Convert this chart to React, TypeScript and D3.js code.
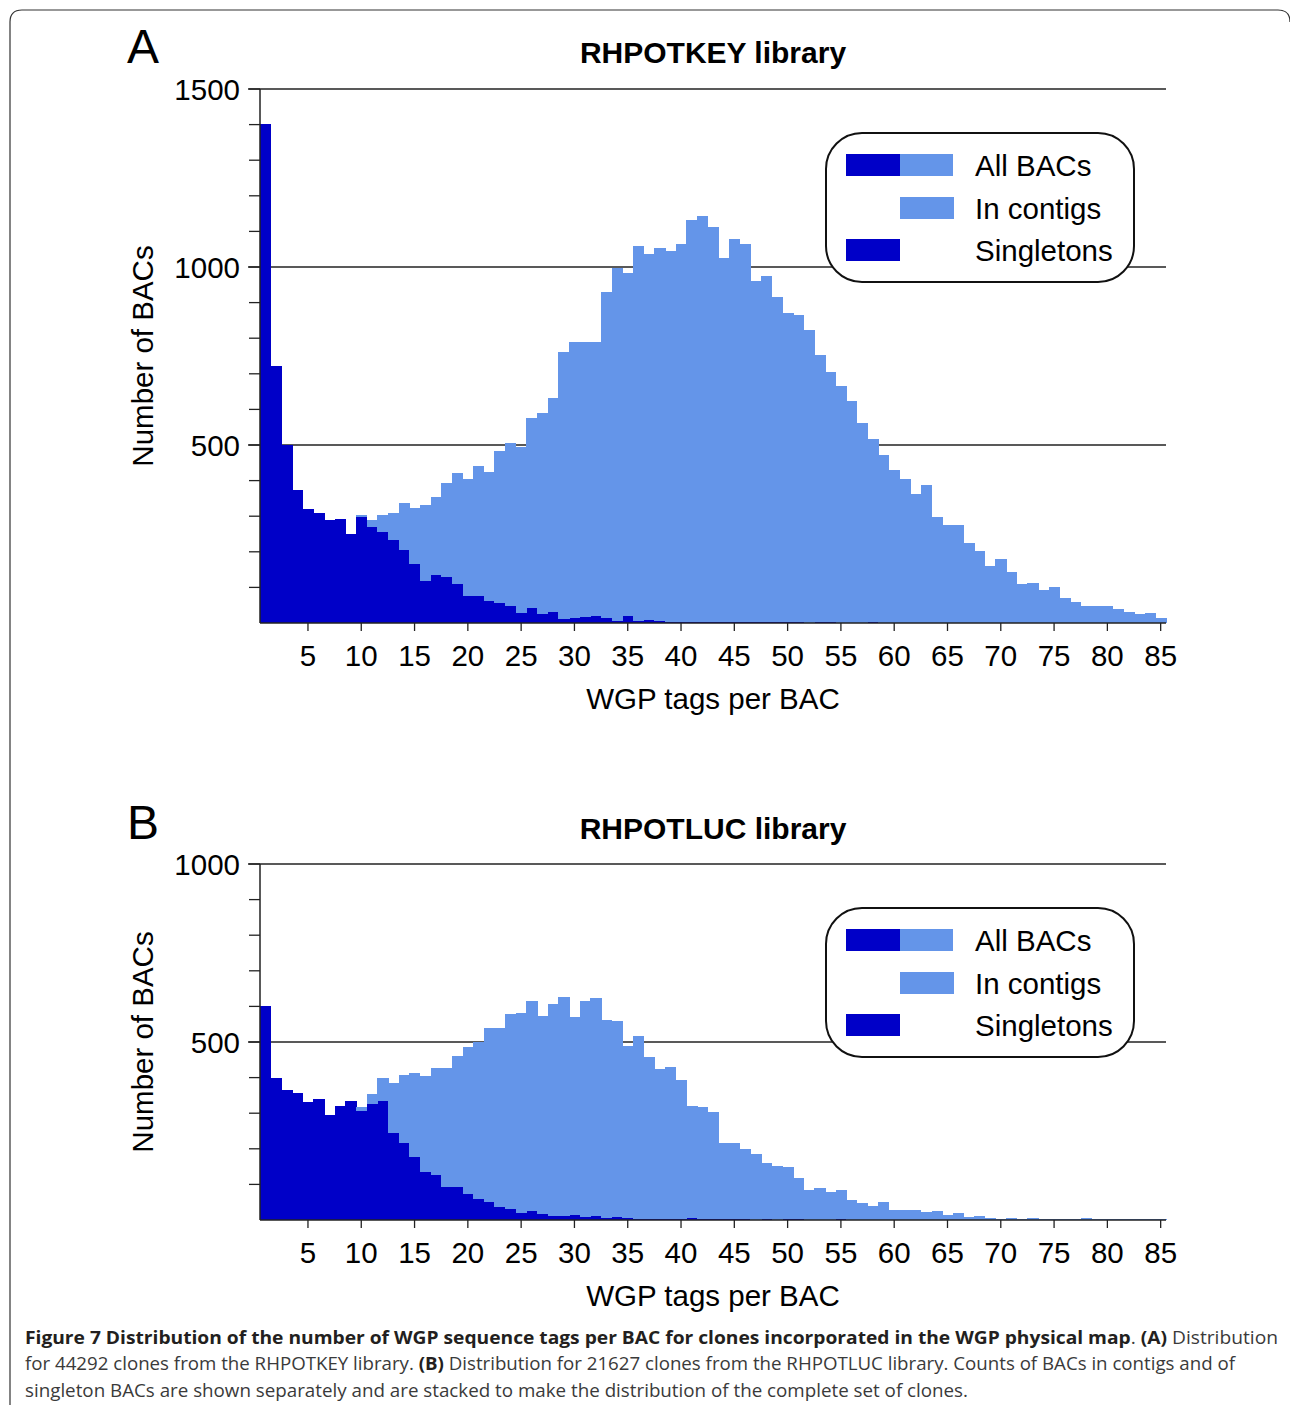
import React from "react";
import * as d3 from "d3";

const bins: number[] = d3.range(1, 86);
const xTickValues: number[] = [5, 10, 15, 20, 25, 30, 35, 40, 45, 50, 55, 60, 65, 70, 75, 80, 85];

// Panel A: RHPOTKEY library
const keySingletons: number[] = [
  1403, 723, 500, 373, 320, 308, 289, 291, 251, 298,
  271, 256, 234, 206, 167, 119, 136, 130, 110, 77,
  77, 63, 57, 48, 29, 43, 26, 31, 12, 15,
  18, 20, 15, 6, 20, 6, 9, 6, 4, 4,
  4, 4, 2, 2, 4, 2, 4, 4, 2, 2,
  4, 0, 2, 2, 0, 0, 0, 2, 0, 0,
  0, 0, 0, 0, 0, 0, 0, 0, 0, 0,
  0, 0, 0, 0, 0, 0, 0, 0, 0, 0,
  0, 0, 0, 0, 0,
];
const keyInContigs: number[] = [
  0, 0, 0, 0, 0, 0, 0, 0, 0, 4,
  18, 46, 76, 132, 157, 213, 219, 264, 310, 328,
  365, 362, 427, 459, 464, 533, 563, 602, 750, 773,
  770, 768, 914, 990, 963, 1052, 1027, 1048, 1042, 1062,
  1127, 1138, 1109, 1023, 1074, 1064, 956, 972, 915, 868,
  860, 824, 752, 704, 665, 625, 563, 514, 473, 431,
  405, 361, 389, 299, 276, 276, 226, 203, 161, 180,
  144, 110, 113, 94, 102, 71, 59, 48, 48, 48,
  40, 32, 24, 29, 15,
];
const keyYTicks: number[] = [500, 1000, 1500];

// Panel B: RHPOTLUC library
const lucSingletons: number[] = [
  601, 398, 365, 356, 331, 339, 294, 320, 334, 306,
  325, 334, 244, 216, 176, 134, 126, 92, 92, 72,
  59, 50, 36, 31, 20, 25, 17, 11, 11, 14,
  8, 11, 6, 8, 6, 3, 3, 3, 3, 3,
  6, 3, 3, 3, 3, 3, 1, 3, 1, 3,
  3, 1, 1, 1, 3, 1, 0, 0, 0, 0,
  0, 0, 0, 0, 0, 0, 0, 0, 0, 0,
  0, 0, 0, 0, 0, 0, 0, 0, 0, 0,
  0, 0, 0, 0, 0,
];
const lucInContigs: number[] = [
  0, 0, 0, 0, 0, 0, 0, 0, 0, 11,
  28, 64, 140, 191, 236, 270, 300, 334, 368, 413,
  441, 489, 503, 547, 561, 590, 556, 595, 615, 556,
  607, 612, 555, 551, 482, 513, 454, 421, 426, 390,
  314, 314, 300, 213, 213, 196, 184, 156, 150, 145,
  114, 83, 88, 77, 81, 54, 47, 39, 50, 28,
  28, 28, 22, 25, 14, 20, 8, 11, 6, 3,
  6, 3, 6, 3, 3, 3, 3, 6, 2, 3,
  2, 3, 2, 2, 3,
];
const lucYTicks: number[] = [500, 1000];

const legendLabels: string[] = ["All BACs", "In contigs", "Singletons"];

const DARK = "#0000C8";
const LIGHT = "#6495E9";
const AXIS = "#222";
const FONT = "'Liberation Sans', Arial, sans-serif";
const FS = 29.5;

type PanelProps = {
  letter: string;
  title: string;
  singletons: number[];
  inContigs: number[];
  yMax: number;
  yTicks: number[];
  top: number;
  bottom: number;
  letterY: number;
  legendTop: number;
};

function Panel(p: PanelProps) {
  const left = 260;
  const right = 1166;
  const x = d3.scaleBand<number>().domain(bins).range([left, right]).padding(0);
  const y = d3.scaleLinear().domain([0, p.yMax]).range([p.bottom, p.top]);
  const rows = bins.map((b, i) => ({ bin: b, singletons: p.singletons[i], inContigs: p.inContigs[i] }));
  const stacked = d3.stack<any>().keys(["singletons", "inContigs"])(rows);
  const colors = [DARK, LIGHT];
  const minor = d3.range(100, p.yMax + 1, 100);
  const cx = 713;

  const lgX = 826, lgW = 308, lgH = 149;
  const rowYs = [p.legendTop + 32, p.legendTop + 75, p.legendTop + 117];
  const midY = (p.top + p.bottom) / 2 + (p.yMax === 1500 ? 0 : 0);
  const labelY = p.yMax === 1500 ? 356 : 1042;

  return (
    <g fontFamily={FONT}>
      <text x={127} y={p.letterY} fontSize={48} fill="#000">{p.letter}</text>
      <text x={cx} y={p.letterY} fontSize={30} fontWeight="bold" textAnchor="middle" fill="#000">{p.title}</text>
      {p.yTicks.map((t) => (
        <line key={"g" + t} x1={248} x2={right} y1={y(t)} y2={y(t)} stroke={AXIS} strokeWidth={1.3} />
      ))}
      {minor.map((t) => (
        <line key={"m" + t} x1={249} x2={left} y1={y(t)} y2={y(t)} stroke={AXIS} strokeWidth={1.3} />
      ))}
      {stacked.map((s, si) => (
        <g key={s.key} fill={colors[si]} shapeRendering="crispEdges">
          {s.map((d: any, i: number) => {
            const h = y(d[0]) - y(d[1]);
            if (h <= 0) return null;
            return (
              <rect key={i} x={x(bins[i])!} width={x.bandwidth() + 0.6} y={y(d[1])} height={h} />
            );
          })}
        </g>
      ))}
      <line x1={left} x2={left} y1={p.top} y2={p.bottom} stroke={AXIS} strokeWidth={1.5} />
      <line x1={left} x2={right} y1={p.bottom} y2={p.bottom} stroke={AXIS} strokeWidth={1.3} />
      {xTickValues.map((t) => {
        const xc = x(t)! + x.bandwidth() / 2;
        return (
          <g key={"x" + t}>
            <line x1={xc} x2={xc} y1={p.bottom} y2={p.bottom + 8} stroke={AXIS} strokeWidth={1.3} />
            <text x={xc} y={p.bottom + 43} fontSize={FS} textAnchor="middle" fill="#000">{t}</text>
          </g>
        );
      })}
      {p.yTicks.map((t) => (
        <text key={"yl" + t} x={240} y={y(t) + 10.5} fontSize={FS} textAnchor="end" fill="#000">{t}</text>
      ))}
      <text
        transform={`translate(153, ${labelY}) rotate(-90)`}
        fontSize={FS}
        textAnchor="middle"
        fill="#000"
        data-mid={midY}
      >
        Number of BACs
      </text>
      <text x={cx} y={p.bottom + 86} fontSize={FS} textAnchor="middle" fill="#000">WGP tags per BAC</text>
      <rect x={lgX} y={p.legendTop} width={lgW} height={lgH} rx={36} ry={36} fill="#fff" stroke="#111" strokeWidth={2} />
      <rect x={846} y={rowYs[0] - 11} width={54} height={22} fill={DARK} />
      <rect x={900} y={rowYs[0] - 11} width={53} height={22} fill={LIGHT} />
      <rect x={900} y={rowYs[1] - 11} width={54} height={22} fill={LIGHT} />
      <rect x={846} y={rowYs[2] - 11} width={54} height={22} fill={DARK} />
      {legendLabels.map((l, i) => (
        <text key={l} x={975} y={rowYs[i] + 10.5} fontSize={FS} fill="#000">{l}</text>
      ))}
    </g>
  );
}

const CAP_BOLD = "#231f20";
const CAP_REG = "#3a3a3a";
const CAP_FONT = "'Open Sans', 'Noto Sans', sans-serif";

export default function App() {
  return (
    <svg
      width={1290}
      height={1405}
      viewBox="0 0 1290 1405"
      style={{ position: "absolute", left: 0, top: 0, background: "#fff" }}
    >
      <rect x={0} y={0} width={1290} height={1405} fill="#fff" />
      <path d="M10,1405 L10,22 Q10,10 22,10 L1278,10 Q1290,10 1290,22" fill="none" stroke="#333" strokeWidth={1.2} />
      <Panel
        letter="A"
        title="RHPOTKEY library"
        singletons={keySingletons}
        inContigs={keyInContigs}
        yMax={1500}
        yTicks={keyYTicks}
        top={89}
        bottom={623}
        letterY={63}
        legendTop={133}
      />
      <Panel
        letter="B"
        title="RHPOTLUC library"
        singletons={lucSingletons}
        inContigs={lucInContigs}
        yMax={1000}
        yTicks={lucYTicks}
        top={864}
        bottom={1220}
        letterY={839}
        legendTop={908}
      />
      <g fontFamily={CAP_FONT} fontSize={18.5}>
        <text x={25} y={1344} textLength={1253} lengthAdjust="spacingAndGlyphs">
          <tspan fontWeight="bold" fill={CAP_BOLD}>Figure 7 Distribution of the number of WGP sequence tags per BAC for clones incorporated in the WGP physical map</tspan>
          <tspan fill={CAP_REG}>. </tspan>
          <tspan fontWeight="bold" fill={CAP_BOLD}>(A)</tspan>
          <tspan fill={CAP_REG}> Distribution</tspan>
        </text>
        <text x={25} y={1370} textLength={1210} lengthAdjust="spacingAndGlyphs">
          <tspan fill={CAP_REG}>for 44292 clones from the RHPOTKEY library. </tspan>
          <tspan fontWeight="bold" fill={CAP_BOLD}>(B)</tspan>
          <tspan fill={CAP_REG}> Distribution for 21627 clones from the RHPOTLUC library. Counts of BACs in contigs and of</tspan>
        </text>
        <text x={25} y={1397} textLength={943} lengthAdjust="spacingAndGlyphs" fill={CAP_REG}>
          singleton BACs are shown separately and are stacked to make the distribution of the complete set of clones.
        </text>
      </g>
    </svg>
  );
}
